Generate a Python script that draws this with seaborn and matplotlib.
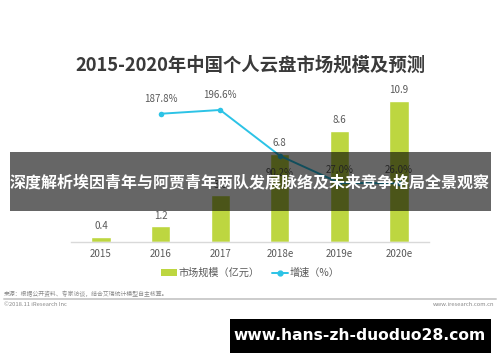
import matplotlib
matplotlib.use("Agg")
import matplotlib.pyplot as plt
import seaborn as sns
import pandas as pd
from matplotlib.patches import Rectangle, Patch
from matplotlib.lines import Line2D

sns.set_theme(style="white")
plt.rcParams['font.family'] = ['Noto Sans CJK SC', 'DejaVu Sans']

# ---- data ----
years = ["2015", "2016", "2017", "2018e", "2019e", "2020e"]
market_size = [0.4, 1.2, 3.6, 6.8, 8.6, 10.9]
growth_years = ["2016", "2017", "2018e", "2019e", "2020e"]
growth_rate = [187.8, 196.6, 90.2, 27.0, 26.0]
growth_labels = ["187.8%", "196.6%", "90.2%", "27.0%", "26.0%"]

title = "2015-2020年中国个人云盘市场规模及预测"
legend_bar = "市场规模（亿元）"
legend_line = "增速（%）"
source_text = "来源：根据公开资料、专家访谈，结合艾瑞统计模型自主核算。"
copyright_text = "©2018.11 iResearch Inc"
site_text = "www.iresearch.com.cn"
banner_text = "深度解析埃因青年与阿贾青年两队发展脉络及未来竞争格局全景观察"
watermark_text = "www.hans-zh-duoduo28.com"

BAR_C = "#BDD640"
LINE_C = "#2CC3E6"
TXT_C = "#595959"

W, H = 500, 362
fig = plt.figure(figsize=(W / 100, H / 100), dpi=100)
fig.patch.set_facecolor("white")

def fx(px):
    return px / W

def fy(py):
    return 1 - py / H

ax = fig.add_axes([fx(71.2), fy(242), fx(357.6), 162 / H])
df = pd.DataFrame({"year": years, "size": market_size})
sns.barplot(data=df, x="year", y="size", color=BAR_C, width=0.32,
            saturation=1, ax=ax, order=years)
ax.set_ylim(0, 12.5)
ax.set_xlim(-0.5, 5.5)
ax.set_xlabel("")
ax.set_ylabel("")
ax.set_yticks([])
for s in ["top", "left", "right"]:
    ax.spines[s].set_visible(False)
ax.spines["bottom"].set_color("#d9d9d9")
ax.spines["bottom"].set_linewidth(1.0)
ax.tick_params(axis="x", length=0, pad=5, labelsize=7, labelcolor=TXT_C)
ax.set_facecolor("none")

for i, v in enumerate(market_size):
    ax.annotate(f"{v:g}", (i, v), xytext=(0, 4), textcoords="offset points",
                ha="center", va="bottom", fontsize=7, color=TXT_C)

ax2 = ax.twinx()
gx = [years.index(y) for y in growth_years]
gdf = pd.DataFrame({"x": gx, "g": growth_rate})
sns.lineplot(data=gdf, x="x", y="g", color=LINE_C, linewidth=1.4,
             marker="o", markersize=4, markeredgewidth=0, ax=ax2)
ax2.set_ylim(-110.5, 266.3)
ax2.set_xlim(-0.5, 5.5)
ax2.set_yticks([])
ax2.set_ylabel("")
ax2.set_xlabel("")
for s in ax2.spines.values():
    s.set_visible(False)

offsets = [7, 7, -9, 6, 6]
for xi, v, lab, off in zip(gx, growth_rate, growth_labels, offsets):
    ax2.annotate(lab, (xi, v), xytext=(0, off), textcoords="offset points",
                 ha="center", va="bottom" if off > 0 else "top",
                 fontsize=7, color=TXT_C)

# title
fig.text(0.5, fy(65), title, ha="center", va="center", fontsize=13.2,
         fontweight="bold", color="#3a3a3a")

# legend
handles = [Patch(facecolor=BAR_C, edgecolor="none"),
           Line2D([0], [0], color=LINE_C, lw=1.4, marker="o", markersize=3.5)]
fig.legend(handles, [legend_bar, legend_line], loc="center",
           bbox_to_anchor=(0.5, fy(273)), ncol=2, frameon=False,
           fontsize=7.3, labelcolor=TXT_C, handlelength=1.6, handleheight=0.6,
           handletextpad=0.15, columnspacing=1.2)

# footer
fig.add_artist(Line2D([fx(4), fx(496)], [fy(298.5), fy(298.5)],
                      color="#cccccc", lw=1.4))
fig.text(fx(4), fy(294), source_text, ha="left", va="center", fontsize=4.2,
         color="#888888")
fig.text(fx(4), fy(305), copyright_text, ha="left", va="center", fontsize=4.2,
         color="#888888")
fig.text(fx(494), fy(305), site_text, ha="right", va="center", fontsize=4.2,
         color="#888888")

# banner overlay
fig.add_artist(Rectangle((fx(10), fy(211)), fx(481), (211 - 152) / H,
                         facecolor="black", alpha=0.6, edgecolor="none",
                         zorder=10))
fig.text(0.5, fy(182), banner_text, ha="center", va="center", fontsize=11.5,
         fontweight="bold", color="white", zorder=11)

# watermark box
fig.add_artist(Rectangle((fx(230), fy(352.7)), fx(261), (352.7 - 319.3) / H,
                         facecolor="black", edgecolor="none", zorder=10))
fig.text(fx(360), fy(336), watermark_text, ha="center", va="center",
         fontsize=11.2, fontweight="bold", color="white", zorder=11,
         family="DejaVu Sans")

fig.savefig("out.png", dpi=100, facecolor="white")
